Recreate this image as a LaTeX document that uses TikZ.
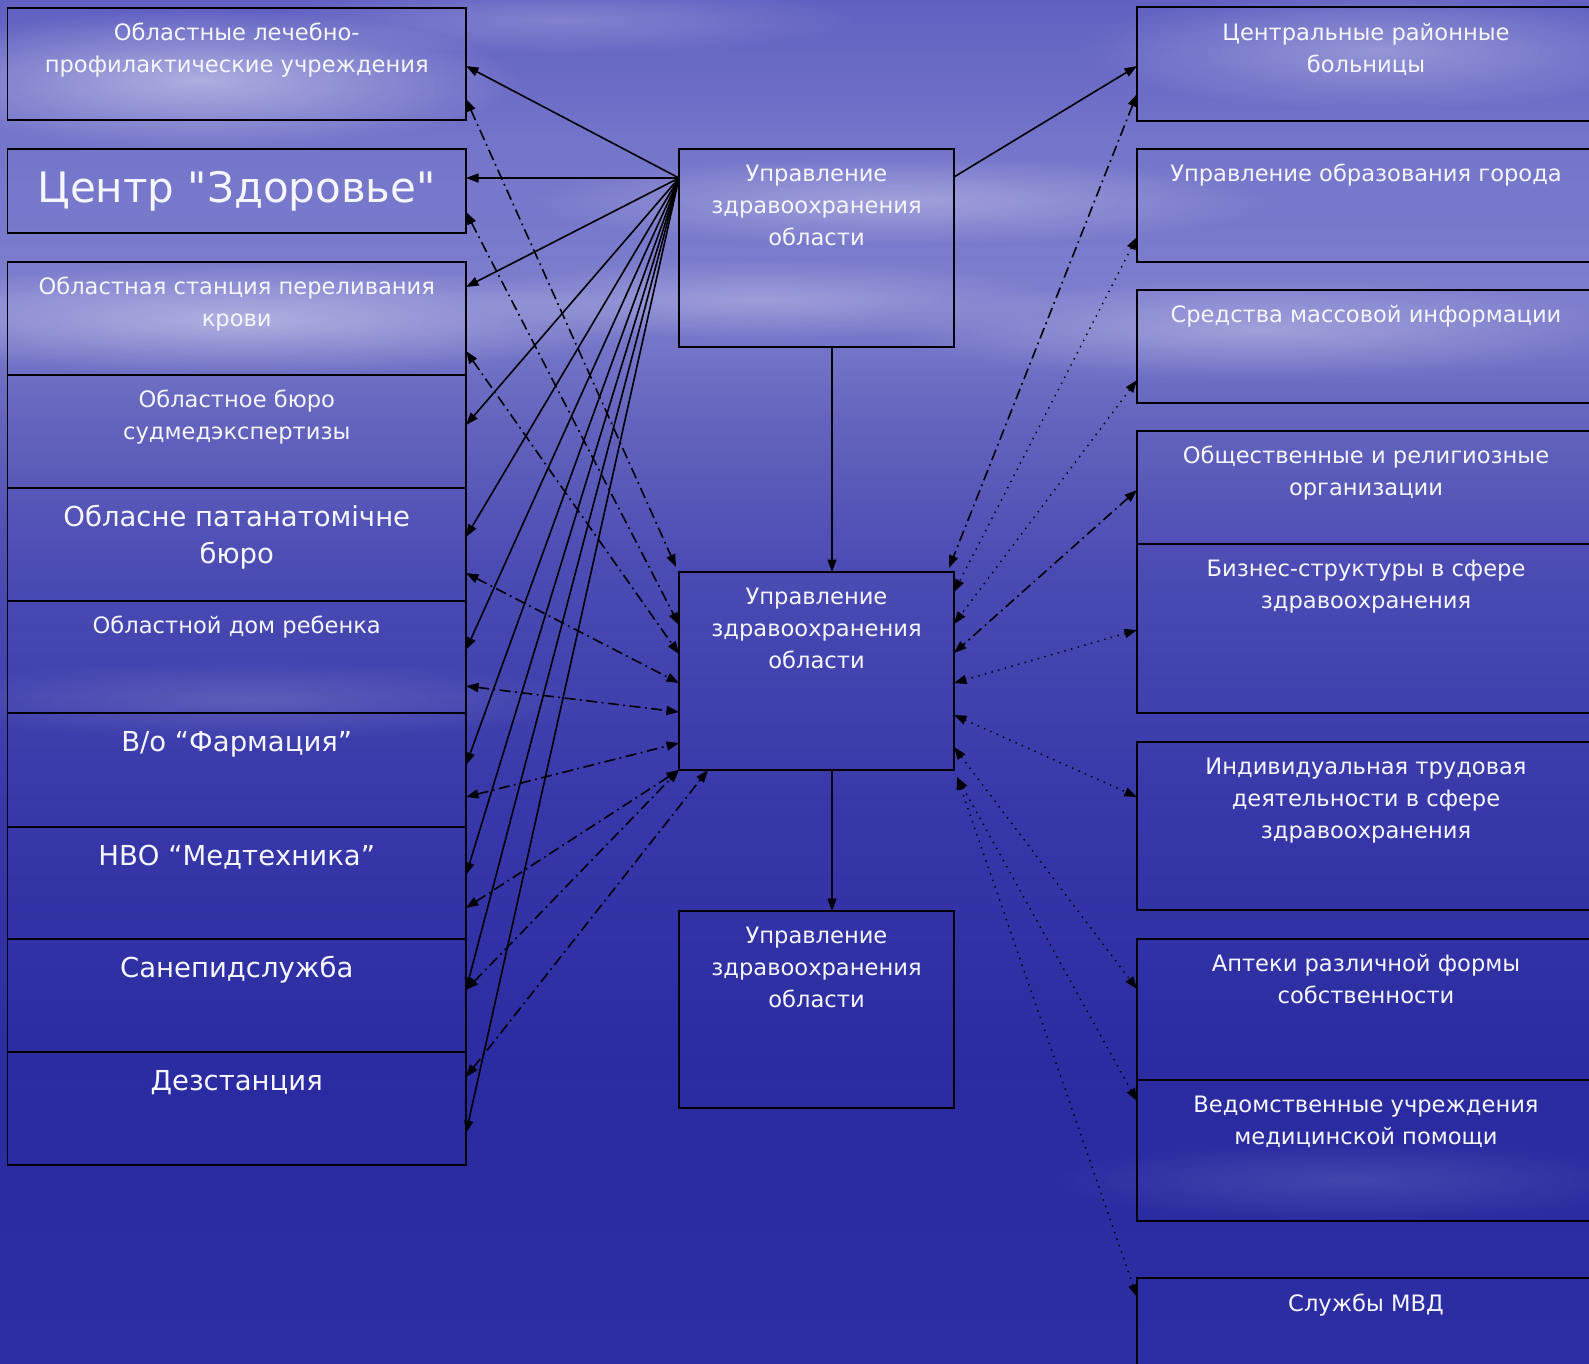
\documentclass[tikz,border=0pt]{standalone}
\usepackage{fontspec}
\setmainfont{DejaVu Sans}[Ligatures=TeXOff]
\usetikzlibrary{arrows.meta,calc,fadings}
\newcommand{\fstr}[1]{\rule{0pt}{#1}}
\definecolor{bgA}{RGB}{96,96,194}
\definecolor{bgB}{RGB}{116,116,202}
\definecolor{bgC}{RGB}{126,126,206}
\definecolor{bgD}{RGB}{100,100,190}
\definecolor{bgE}{RGB}{76,76,180}
\definecolor{bgF}{RGB}{56,56,170}
\definecolor{bgG}{RGB}{42,42,161}
\definecolor{bgH}{RGB}{46,46,164}
\definecolor{txt}{RGB}{246,246,255}
\tikzfading[name=softfade, inner color=transparent!0, outer color=transparent!100]
\begin{document}
\begin{tikzpicture}[x=1pt,y=-1pt,
  box/.style={draw=black, line width=1.9pt, inner sep=0pt, outer sep=0pt, anchor=north west},
  lbl/.style={text=txt, align=center, anchor=north, inner sep=0pt},
  sm/.style={font=\fontsize{22.6}{32}\selectfont},
  lg/.style={font=\fontsize{27.5}{37}\selectfont},
  huge/.style={font=\fontsize{42}{50}\selectfont},
  tip/.tip={Triangle[length=12.5pt,width=9pt]},
  conn/.style={line width=1.6pt, -tip},
  dconn/.style={line width=1.6pt, tip-tip, dash pattern=on 11pt off 4.5pt on 1.8pt off 4.5pt},
  tconn/.style={line width=1.4pt, tip-tip, dash pattern=on 1.4pt off 5.5pt},
  cloud/.style={white, path fading=softfade}
]
\useasboundingbox (0,0) rectangle (1589,1363);
\clip (0,0) rectangle (1589,1363);
% background
\fill[top color=bgA, bottom color=bgB] (0,-1) rectangle (1589,141);
\fill[top color=bgB, bottom color=bgC] (0,140) rectangle (1589,301);
\fill[top color=bgC, bottom color=bgD] (0,300) rectangle (1589,421);
\fill[top color=bgD, bottom color=bgE] (0,420) rectangle (1589,561);
\fill[top color=bgE, bottom color=bgF] (0,560) rectangle (1589,801);
\fill[top color=bgF, bottom color=bgG] (0,800) rectangle (1589,1101);
\fill[top color=bgG, bottom color=bgH] (0,1100) rectangle (1589,1364);
% clouds
\fill[cloud, opacity=.45] (200,80) ellipse (320 and 70);
\fill[cloud, opacity=.30] (1380,50) ellipse (300 and 60);
\fill[cloud, opacity=.30] (900,200) ellipse (380 and 45);
\fill[cloud, opacity=.40] (240,320) ellipse (420 and 55);
\fill[cloud, opacity=.30] (1260,330) ellipse (380 and 50);
\fill[cloud, opacity=.25] (760,300) ellipse (300 and 40);
\fill[cloud, opacity=.20] (560,20) ellipse (300 and 35);
\fill[cloud, opacity=.15] (250,700) ellipse (350 and 40);
\fill[cloud, opacity=.12] (1350,1180) ellipse (320 and 40);

% left boxes
\node[box, minimum width=458.5pt, minimum height=112pt] (L1) at (7.5,8) {};
\node[box, minimum width=458.5pt, minimum height=84pt] (L2) at (7.5,149) {};
\node[box, minimum width=458.5pt, minimum height=113pt] (L3) at (7.5,262) {};
\node[box, minimum width=458.5pt, minimum height=113pt] (L4) at (7.5,375) {};
\node[box, minimum width=458.5pt, minimum height=113pt] (L5) at (7.5,488) {};
\node[box, minimum width=458.5pt, minimum height=112pt] (L6) at (7.5,601) {};
\node[box, minimum width=458.5pt, minimum height=114pt] (L7) at (7.5,713) {};
\node[box, minimum width=458.5pt, minimum height=112pt] (L8) at (7.5,827) {};
\node[box, minimum width=458.5pt, minimum height=113pt] (L9) at (7.5,939) {};
\node[box, minimum width=458.5pt, minimum height=113pt] (L10) at (7.5,1052) {};
% centre boxes
\node[box, minimum width=275pt, minimum height=198pt] (U1) at (679,149) {};
\node[box, minimum width=275pt, minimum height=198pt] (U2) at (679,572) {};
\node[box, minimum width=275pt, minimum height=197pt] (U3) at (679,911) {};
% right boxes
\node[box, minimum width=458pt, minimum height=114pt] (R1) at (1137,7) {};
\node[box, minimum width=458pt, minimum height=113pt] (R2) at (1137,149) {};
\node[box, minimum width=458pt, minimum height=113pt] (R3) at (1137,290) {};
\node[box, minimum width=458pt, minimum height=113pt] (R4) at (1137,431) {};
\node[box, minimum width=458pt, minimum height=169pt] (R5) at (1137,544) {};
\node[box, minimum width=458pt, minimum height=168pt] (R6) at (1137,742) {};
\node[box, minimum width=458pt, minimum height=141pt] (R7) at (1137,939) {};
\node[box, minimum width=458pt, minimum height=141pt] (R8) at (1137,1080) {};
\node[box, minimum width=458pt, minimum height=92pt] (R9) at (1137,1278) {};

% labels
\node[lbl,sm] (tL1) at ($(L1.north)+(0,12)$) {\fstr{20pt}Областные лечебно-\\профилактические учреждения};
\node[lbl,huge] (tL2) at ($(L2.north)+(0,15)$) {\fstr{38pt}Центр "Здоровье"};
\node[lbl,sm] (tL3) at ($(L3.north)+(0,12)$) {\fstr{20pt}Областная станция переливания\\крови};
\node[lbl,sm] (tL4) at ($(L4.north)+(0,12)$) {\fstr{20pt}Областное бюро\\судмедэкспертизы};
\node[lbl,lg] (tL5) at ($(L5.north)+(0,13)$) {\fstr{25pt}Обласне патанатомічне\\бюро};
\node[lbl,sm] (tL6) at ($(L6.north)+(0,12)$) {\fstr{20pt}Областной дом ребенка};
\node[lbl,lg] (tL7) at ($(L7.north)+(0,13)$) {\fstr{25pt}В/о “Фармация”};
\node[lbl,lg] (tL8) at ($(L8.north)+(0,13)$) {\fstr{25pt}НВО “Медтехника”};
\node[lbl,lg] (tL9) at ($(L9.north)+(0,13)$) {\fstr{25pt}Санепидслужба};
\node[lbl,lg] (tL10) at ($(L10.north)+(0,13)$) {\fstr{25pt}Дезстанция};
\node[lbl,sm] (tU1) at ($(U1.north)+(0,12)$) {\fstr{20pt}Управление\\здравоохранения\\области};
\node[lbl,sm] (tU2) at ($(U2.north)+(0,12)$) {\fstr{20pt}Управление\\здравоохранения\\области};
\node[lbl,sm] (tU3) at ($(U3.north)+(0,12)$) {\fstr{20pt}Управление\\здравоохранения\\области};
\node[lbl,sm] (tR1) at ($(R1.north)+(0,13)$) {\fstr{20pt}Центральные районные\\больницы};
\node[lbl,sm] (tR2) at ($(R2.north)+(0,12)$) {\fstr{20pt}Управление образования города};
\node[lbl,sm] (tR3) at ($(R3.north)+(0,12)$) {\fstr{20pt}Средства массовой информации};
\node[lbl,sm] (tR4) at ($(R4.north)+(0,12)$) {\fstr{20pt}Общественные и религиозные\\организации};
\node[lbl,sm] (tR5) at ($(R5.north)+(0,12)$) {\fstr{20pt}Бизнес-структуры в сфере\\здравоохранения};
\node[lbl,sm] (tR6) at ($(R6.north)+(0,12)$) {\fstr{20pt}Индивидуальная трудовая\\деятельности в сфере\\здравоохранения};
\node[lbl,sm] (tR7) at ($(R7.north)+(0,12)$) {\fstr{20pt}Аптеки различной формы\\собственности};
\node[lbl,sm] (tR8) at ($(R8.north)+(0,12)$) {\fstr{20pt}Ведомственные учреждения\\медицинской помощи};
\node[lbl,sm] (tR9) at ($(R9.north)+(0,13)$) {\fstr{20pt}Службы МВД};

% solid fan from U1
\draw[conn] (U1.west |- 0,178) -- (L1.east |- 0,66);
\draw[conn] (U1.west |- 0,178) -- (L2.east |- 0,178);
\draw[conn] (U1.west |- 0,178) -- (L3.east |- 0,287);
\draw[conn] (U1.west |- 0,178) -- (L4.east |- 0,425);
\draw[conn] (U1.west |- 0,178) -- (L5.east |- 0,537);
\draw[conn] (U1.west |- 0,178) -- (L6.east |- 0,650);
\draw[conn] (U1.west |- 0,178) -- (L7.east |- 0,765);
\draw[conn] (U1.west |- 0,178) -- (L8.east |- 0,875);
\draw[conn] (U1.west |- 0,178) -- (L9.east |- 0,990);
\draw[conn] (U1.west |- 0,178) -- (L10.east |- 0,1133);
\draw[conn] (U1.east |- 0,177) -- (R1.west |- 0,66);
\draw[conn] (U1.south -| 832,0) -- (U2.north -| 832,0);
\draw[conn] (U2.south -| 832,0) -- (U3.north -| 832,0);

% dash-dot links, left
\draw[dconn] (L1.east |- 0,99) -- ($(U2.north west)+(-3,-5)$);
\draw[dconn] (L2.east |- 0,212) -- (U2.west |- 0,625);
\draw[dconn] (L3.east |- 0,351) -- (U2.west |- 0,654);
\draw[dconn] (L5.east |- 0,573) -- (U2.west |- 0,683);
\draw[dconn] (L6.east |- 0,686) -- (U2.west |- 0,712);
\draw[dconn] (L7.east |- 0,797) -- (U2.west |- 0,743);
\draw[dconn] (L8.east |- 0,908) -- (U2.south west);
\draw[dconn] (L9.east |- 0,990) -- (U2.south west);
\draw[dconn] (L10.east |- 0,1077) -- (U2.south -| 708,0);

% right links
\draw[dconn] (R1.west |- 0,94) -- ($(U2.north east)+(-5,-4)$);
\draw[tconn] (R2.west |- 0,237) -- (U2.east |- 0,592);
\draw[tconn] (R3.west |- 0,380) -- (U2.east |- 0,624);
\draw[dconn] (R4.west |- 0,490) -- (U2.east |- 0,653);
\draw[tconn] (R5.west |- 0,630) -- (U2.east |- 0,683);
\draw[tconn] (U2.east |- 0,715) -- (R6.west |- 0,797);
\draw[tconn] (U2.east |- 0,747) -- (R7.west |- 0,989);
\draw[tconn] ($(U2.south east)+(3,7)$) -- (R8.west |- 0,1101);
\draw[tconn] ($(U2.south east)+(3,7)$) -- (R9.west |- 0,1297);
\end{tikzpicture}
\end{document}
